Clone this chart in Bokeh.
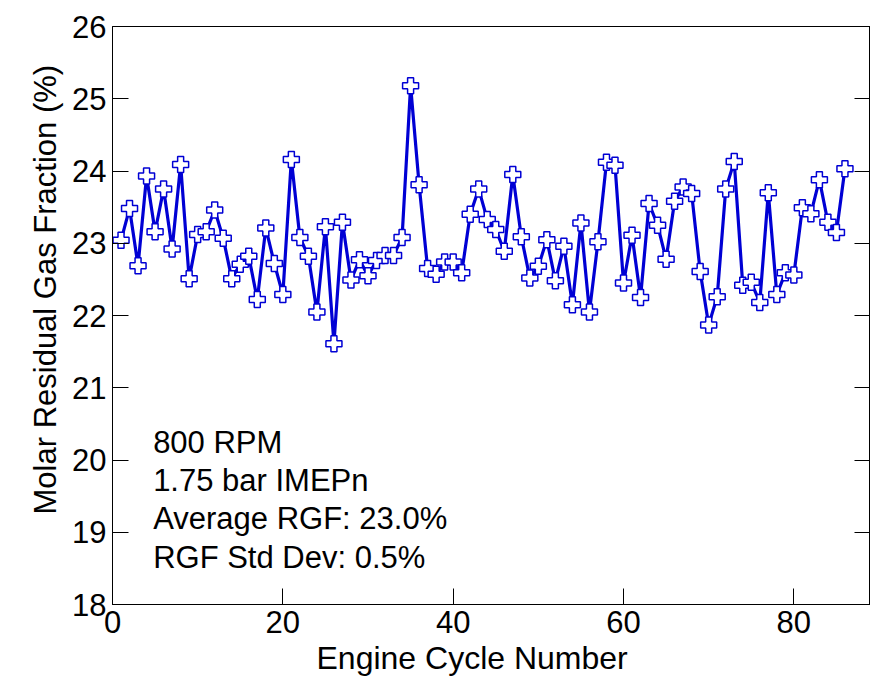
from bokeh.plotting import figure
from bokeh.models import LinearAxis, Label, FixedTicker, Range1d, Title
from bokeh.embed import file_html
from bokeh.resources import INLINE

cycles = list(range(1, 87))
rgf = [23.04, 23.48, 22.69, 23.93, 23.16, 23.75, 22.92, 24.09, 22.51, 23.12,
       23.16, 23.46, 23.07, 22.51, 22.71, 22.82, 22.22, 23.21, 22.72, 22.29,
       24.16, 23.08, 22.82, 22.05, 23.23, 21.61, 23.29, 22.49, 22.77, 22.55,
       22.76, 22.83, 22.83, 23.08, 25.18, 23.81, 22.65, 22.57, 22.74, 22.74,
       22.59, 23.40, 23.75, 23.33, 23.19, 22.89, 23.95, 23.09, 22.52, 22.68,
       23.05, 22.48, 22.96, 22.15, 23.28, 22.05, 23.02, 24.12, 24.08, 22.45,
       23.11, 22.25, 23.55, 23.25, 22.78, 23.58, 23.78, 23.69, 22.61, 21.87,
       22.26, 23.75, 24.13, 22.42, 22.46, 22.18, 23.70, 22.29, 22.59, 22.56,
       23.49, 23.41, 23.88, 23.29, 23.15, 24.03]
x_ticks = [0, 20, 40, 60, 80]
y_ticks = [18, 19, 20, 21, 22, 23, 24, 25, 26]
notes = ["800 RPM", "1.75 bar IMEPn", "Average RGF: 23.0%", "RGF Std Dev: 0.5%"]
x_title = "Engine Cycle Number"
y_title = "Molar Residual Gas Fraction (%)"

FONT = "Liberation Sans"
BLUE = "#0000D4"

p = figure(frame_width=758, frame_height=578, output_backend="svg", toolbar_location=None,
           x_range=Range1d(0, 89), y_range=Range1d(18, 26),
           min_border_left=112, min_border_top=26, min_border_right=0, min_border_bottom=80)
p.background_fill_color = "white"
p.border_fill_color = "white"
p.outline_line_color = "black"
p.outline_line_width = 1
p.xgrid.visible = False
p.ygrid.visible = False

p.line(cycles, rgf, line_color=BLUE, line_width=3.2)
p.scatter(cycles, rgf, marker="plus", size=16, fill_color="white",
          line_color=BLUE, line_width=1.5)

for ax in (p.xaxis[0], p.yaxis[0]):
    ax.major_tick_in = 16
    ax.major_tick_out = 0
    ax.minor_tick_in = 0
    ax.minor_tick_out = 0
    ax.axis_line_color = "black"
    ax.major_tick_line_color = "black"
    ax.major_label_text_font = FONT
    ax.major_label_text_font_size = "31px"
    ax.major_label_text_color = "black"
    ax.major_label_standoff = 6

p.xaxis[0].ticker = FixedTicker(ticks=x_ticks)
p.yaxis[0].ticker = FixedTicker(ticks=y_ticks)

right = LinearAxis(ticker=FixedTicker(ticks=y_ticks))
right.major_tick_in = 16
right.major_tick_out = 0
right.minor_tick_in = 0
right.minor_tick_out = 0
right.major_label_overrides = {t: "" for t in y_ticks}
right.major_label_standoff = 0
right.axis_line_color = "black"
p.add_layout(right, "right")

# empty spacer axis: pushes the y title further left, as in the reference
spacer = LinearAxis(ticker=FixedTicker(ticks=[]))
spacer.axis_line_color = None
spacer.major_tick_in = 0
spacer.major_tick_out = 16
spacer.minor_tick_in = 0
spacer.minor_tick_out = 0
spacer.major_label_standoff = 0
p.add_layout(spacer, "left")

# axis titles, slightly off-centre as in the reference
p.add_layout(Title(text=x_title, align="left", offset=204, standoff=5,
                   text_font=FONT, text_font_size="32px", text_font_style="normal",
                   text_color="black"), "below")
p.add_layout(Title(text=y_title, align="left", offset=90, standoff=10,
                   vertical_align="top",
                   text_font=FONT, text_font_size="31px", text_font_style="normal",
                   text_color="black"), "left")

y0 = 20.246
for i, t in enumerate(notes):
    p.add_layout(Label(x=4.77, y=y0 - i * 0.53, text=t, text_font=FONT,
                       text_font_size="31px", text_color="black",
                       text_baseline="alphabetic", text_align="left"))

open("out.html", "w").write(file_html(p, INLINE))
